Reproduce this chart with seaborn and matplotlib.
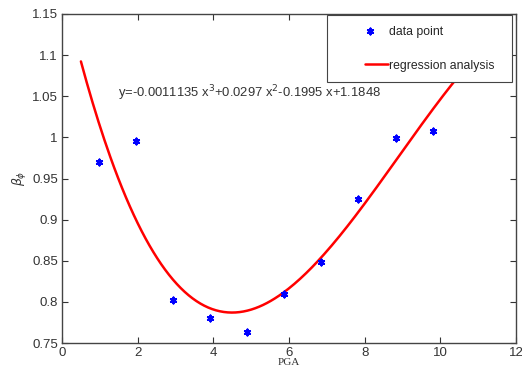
import numpy as np
import pandas as pd
import matplotlib
matplotlib.use("Agg")
import matplotlib.pyplot as plt
import seaborn as sns
from matplotlib.ticker import FuncFormatter
from matplotlib.legend_handler import HandlerLine2D, HandlerPathCollection

# data
pga = [0.98, 1.95, 2.93, 3.90, 4.90, 5.87, 6.84, 7.82, 8.82, 9.80]
beta = [0.970, 0.996, 0.802, 0.781, 0.763, 0.809, 0.849, 0.925, 0.999, 1.008]
coef = [-0.0011135, 0.0297, -0.1995, 1.1848]   # regression formula shown on chart
curve_x = np.linspace(0.5, 10.8, 200)
x_ticks = [0, 2, 4, 6, 8, 10, 12]
y_ticks = [0.75, 0.8, 0.85, 0.9, 0.95, 1.0, 1.05, 1.1, 1.15]

sns.set_theme(style="ticks")
plt.rcParams['font.family'] = ['Liberation Sans', 'DejaVu Sans']

fig = plt.figure(figsize=(5.22, 3.72), dpi=100)
ax = fig.add_axes([62/522, 1-343/372, (516-62)/522, (343-14)/372])

pts = pd.DataFrame({"PGA": pga, "beta": beta})
crv = pd.DataFrame({"PGA": curve_x, "beta": np.polyval(coef, curve_x)})

sns.lineplot(data=crv, x="PGA", y="beta", ax=ax, color="#ff0000", lw=1.8,
             label="regression analysis", zorder=2)
sns.scatterplot(data=pts, x="PGA", y="beta", ax=ax, marker=(6, 2, 0), s=18,
                color="#0000ff", linewidth=1.5,
                label="data point", zorder=3)

ax.set_xlim(0, 12)
ax.set_ylim(0.75, 1.15)
ax.set_xticks(x_ticks)
ax.set_yticks(y_ticks)
ax.yaxis.set_major_formatter(FuncFormatter(lambda v, p: f"{v:g}"))
ax.tick_params(direction="in", top=True, right=True, length=4, width=0.8,
               colors="#333333", labelsize=9.5, labelcolor="#333333", pad=3)
for s in ax.spines.values():
    s.set_color("#444444")
    s.set_linewidth(1.0)

ax.set_xlabel("PGA", fontsize=8, family=["Liberation Serif", "DejaVu Serif"],
              color="#333333", labelpad=-1)
ax.set_ylabel(r"$\beta_{\phi}$", fontsize=9, color="#333333", labelpad=2)

ax.text(1.48, 1.054, r"y=-0.0011135 x$^3$+0.0297 x$^2$-0.1995 x+1.1848",
        fontsize=9.4, color="#333333", va="center", ha="left")


class ShortLine(HandlerLine2D):
    def get_xdata(self, legend, xdescent, ydescent, width, height, fontsize):
        a = width * 0.56 - xdescent
        b = width - xdescent
        return [a, b], [0.5 * (a + b)]


class RightPoint(HandlerPathCollection):
    def get_xdata(self, legend, xdescent, ydescent, width, height, fontsize):
        x = [width * 0.65 - xdescent]
        return x, x


h, l = ax.get_legend_handles_labels()
order = [l.index("data point"), l.index("regression analysis")]
hs = [h[i] for i in order]
labels = ["data point", "regression analysis  "]
leg = ax.legend(hs, labels, loc="upper right",
                bbox_to_anchor=(0.993, 1.0), frameon=True, fancybox=False,
                fontsize=8.8, labelspacing=1.8, handlelength=4.15, borderpad=0.85,
                handletextpad=0.1, borderaxespad=0.1,
                handler_map={hs[0]: RightPoint(), hs[1]: ShortLine()})
leg.get_frame().set_edgecolor("#444444")
leg.get_frame().set_linewidth(0.8)
leg.get_frame().set_alpha(1)

fig.savefig("out.png", dpi=100)
